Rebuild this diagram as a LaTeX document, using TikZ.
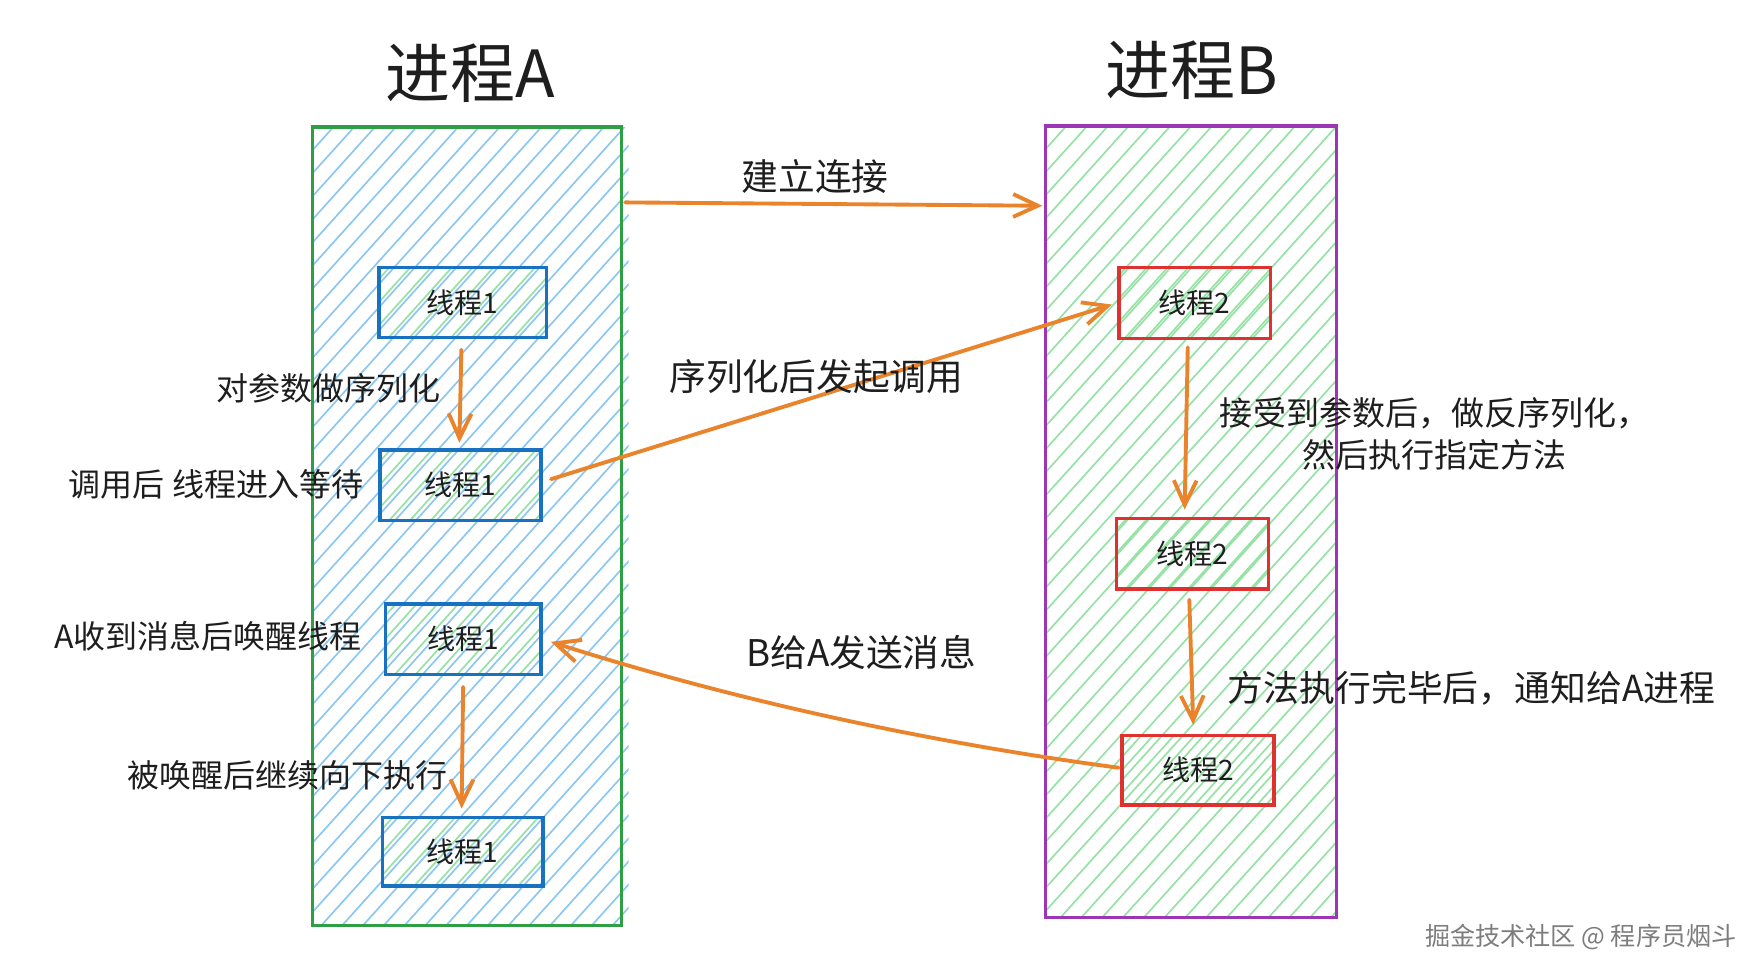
\documentclass[tikz,border=0pt]{standalone}
\usepackage{fontspec}
\setmainfont{Noto Sans CJK SC}
\usetikzlibrary{arrows.meta}
\definecolor{arrorange}{RGB}{234,132,44}
\definecolor{boxgreen}{RGB}{47,158,68}
\definecolor{boxpurple}{RGB}{156,54,181}
\definecolor{thblue}{RGB}{25,113,194}
\definecolor{thred}{RGB}{224,49,49}
\definecolor{hblue}{RGB}{140,199,242}
\definecolor{hgreen}{RGB}{150,226,165}
\definecolor{ink}{RGB}{30,30,30}
\definecolor{wmgray}{RGB}{125,125,125}
\newcommand\pxu{0.022488cm}
\newcommand\hatchbox[7]{%
  \begin{scope}
    \clip (#1,#2) rectangle (#3,#4);
    \pgfmathsetmacro\hH{#4-#2}
    \pgfmathsetmacro\hD{\hH/1.11}
    \pgfmathtruncatemacro\hN{(#3-#1+\hD)/#6+1}
    \foreach \k in {0,...,\hN}
      \draw[#5, line width=0.95pt] ({#1-\hD+(\k+#7)*#6},#4) -- ++(\hD,-\hH);
  \end{scope}}
\begin{document}
\begin{tikzpicture}[x=0.022488cm,y=-0.022488cm,
  arr/.style={draw=arrorange, line width=2.2pt, line cap=round,
    -{Straight Barb[length=14pt,width=13pt]}},
  procbox/.style={line width=1.8pt, inner sep=0pt},
  thread/.style={line width=2pt, inner sep=0pt, text=ink,
    font=\fontsize{16}{18}\selectfont},
  title/.style={text=ink, inner sep=0pt, font=\fontsize{37}{40}\selectfont},
  midlabel/.style={text=ink, inner sep=0pt, font=\fontsize{20.9}{24}\selectfont},
  leftlabel/.style={text=ink, inner sep=0pt, font=\fontsize{18.2}{22}\selectfont}
]
\fill[white] (0,0) rectangle (1560,864.5);
\useasboundingbox (0,0) rectangle (1560,864.5);

% hatching
\hatchbox{278}{113}{559}{823}{hblue}{18.5}{0}
\hatchbox{930}{112}{1189}{816}{hgreen}{18.5}{0}
\hatchbox{337}{238}{486}{300}{hgreen}{18.5}{0.5}
\hatchbox{338}{400}{481}{463}{hgreen}{18.5}{0.5}
\hatchbox{343}{537}{481}{600}{hgreen}{18.5}{0.5}
\hatchbox{340}{727}{483}{788}{hgreen}{18.5}{0.5}
\hatchbox{995}{238}{1130}{301}{hgreen}{18.5}{0.5}
\hatchbox{993}{461}{1128}{524}{hgreen}{18.5}{0.5}
\hatchbox{998}{654}{1133}{716}{hgreen}{18.5}{0.5}

% process containers
\node[procbox, draw=boxgreen, minimum width={275*\pxu}, minimum height={710*\pxu}] (pA) at (415.5,468) {};
\node[procbox, draw=boxpurple, minimum width={259*\pxu}, minimum height={704*\pxu}] (pB) at (1059.5,464) {};

% titles
\node[title] (tA) at (418,65) {进程A};
\node[title] (tB) at (1060,62) {进程B};

% threads
\node[thread, draw=thblue, minimum width={149*\pxu}, minimum height={62*\pxu}] (A1) at (411.5,269) {线程1};
\node[thread, draw=thblue, minimum width={143*\pxu}, minimum height={63*\pxu}] (A2) at (409.5,431.5) {线程1};
\node[thread, draw=thblue, minimum width={138*\pxu}, minimum height={63*\pxu}] (A3) at (412,568.5) {线程1};
\node[thread, draw=thblue, minimum width={143*\pxu}, minimum height={61*\pxu}] (A4) at (411.5,757.5) {线程1};
\node[thread, draw=thred, minimum width={135*\pxu}, minimum height={63*\pxu}] (B1) at (1062.5,269.5) {线程2};
\node[thread, draw=thred, minimum width={135*\pxu}, minimum height={63*\pxu}] (B2) at (1060.5,492.5) {线程2};
\node[thread, draw=thred, minimum width={135*\pxu}, minimum height={62*\pxu}] (B3) at (1065.5,685) {线程2};

% connectors
\draw[arr, shorten <=1pt, shorten >=1pt] ([shift={(0,-288)}]pA.east) -- ([shift={(0,-281)}]pB.west);
\draw[arr, shorten <=6pt, shorten >=3pt] ([shift={(-1,0)}]A1.south) -- ([shift={(-1,0)}]A2.north);
\draw[arr, shorten <=5pt, shorten >=3pt] ([shift={(0,-3)}]A2.east) -- (B1.west);
\draw[arr, shorten <=4pt, shorten >=4pt] ([shift={(-6,0)}]B1.south) -- ([shift={(-7,0)}]B2.north);
\draw[arr, shorten <=5pt, shorten >=5pt] ([shift={(-3,0)}]B2.south) -- ([shift={(-4,0)}]B3.north);
\draw[arr, shorten <=1pt, shorten >=5pt] ([shift={(0,-2)}]B3.west) .. controls (823,660) and (650,622) .. (A3.east);
\draw[arr, shorten <=6pt, shorten >=4pt] (A3.south) -- ([shift={(-1,0)}]A4.north);

% labels
\node[midlabel] (l1) at (725,157) {建立连接};
\node[leftlabel] (l2) at (292.5,345) {对参数做序列化};
\node[midlabel] (l3) at (726,335) {序列化后发起调用};
\node[leftlabel] (l4) at (192.5,431) {调用后 线程进入等待};
\node[text=ink, inner sep=0pt, align=center, font=\fontsize{18.8}{24.3}\selectfont] (l5) at (1276,386) {接受到参数后，做反序列化，\\然后执行指定方法};
\node[leftlabel] (l6) at (185,566) {A收到消息后唤醒线程};
\node[midlabel] (l7) at (766,580) {B给A发送消息};
\node[text=ink, inner sep=0pt, font=\fontsize{20.4}{24}\selectfont] (l8) at (1309,612) {方法执行完毕后，通知给A进程};
\node[leftlabel] (l9) at (256,690) {被唤醒后继续向下执行};
\node[text=wmgray, inner sep=0pt, font=\fontsize{14.3}{16}\selectfont] (wm) at (1406,833) {掘金技术社区 @ 程序员烟斗};
\end{tikzpicture}
\end{document}
